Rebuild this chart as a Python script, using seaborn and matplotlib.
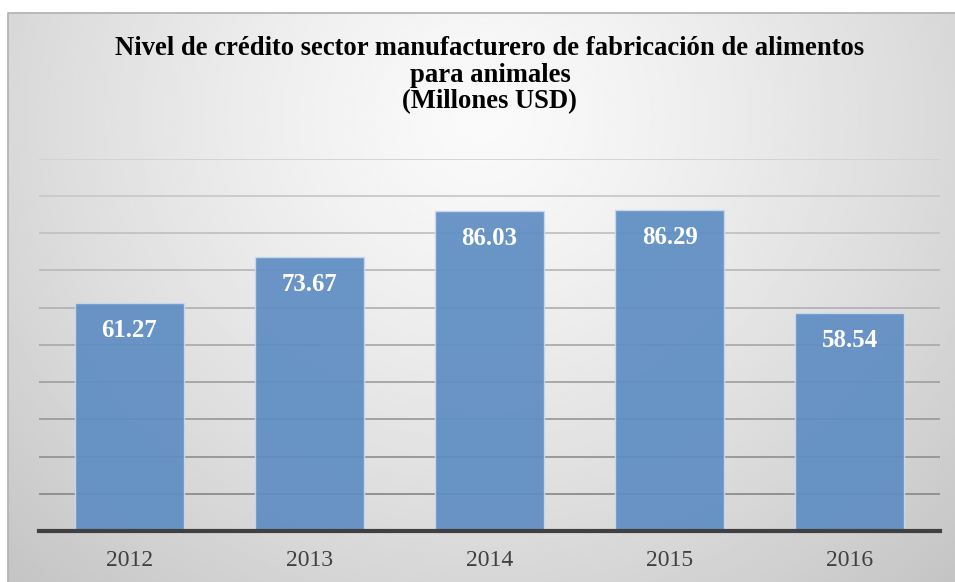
import numpy as np
import pandas as pd
import matplotlib
matplotlib.use("Agg")
import matplotlib.pyplot as plt
import seaborn as sns
from matplotlib.lines import Line2D

years = ["2012", "2013", "2014", "2015", "2016"]
credit = [61.27, 73.67, 86.03, 86.29, 58.54]
title_text = ("Nivel de crédito sector manufacturero de fabricación de alimentos\n"
              "para animales\n(Millones USD)")

sns.set_theme(style="white")
plt.rcParams["font.family"] = ["Liberation Serif", "DejaVu Serif"]

W, H = 955, 582
fig = plt.figure(figsize=(W / 100, H / 100), dpi=100)
fig.patch.set_facecolor("white")

# Chart area with a soft radial gray gradient
left_f, top_f = 8 / W, (H - 13) / H
bg = fig.add_axes([left_f, -0.01, 1.02 - left_f, top_f + 0.01], zorder=0)
gx, gy = np.meshgrid(np.linspace(0, 1, 400), np.linspace(0, 1, 300))
r = np.sqrt(((gx - 0.49) / 0.60) ** 2 + ((gy - 0.82) / 0.95) ** 2)
shade = 0.98 - 0.17 * np.clip(r, 0, 1.3) ** 1.3
bg.imshow(shade, cmap="gray", vmin=0, vmax=1, origin="lower",
          extent=[0, 1, 0, 1], aspect="auto", interpolation="bilinear")
bg.set_xlim(0, 1)
bg.set_ylim(0, 1)
bg.axis("off")
# thin border along the top and left edges of the chart area
fig.add_artist(Line2D([left_f, left_f, 1], [0, top_f, top_f],
                      transform=fig.transFigure, color="#b4b4b4",
                      linewidth=1.3, zorder=1))

ax = fig.add_axes([39 / W, 51 / H, (940 - 39) / W, (531 - 158.5) / H], zorder=2)
ax.patch.set_alpha(0)

df = pd.DataFrame({"year": years, "credit": credit})
sns.barplot(data=df, x="year", y="credit", ax=ax, color="#5f8ec3",
            saturation=1, width=0.605, edgecolor="#c9d9ee", linewidth=1.0,
            alpha=0.93, zorder=3)

ax.set_ylim(0, 100)
ax.set_xlim(-0.5, len(years) - 0.5)
ax.set_yticks(np.arange(10, 101, 10))
ax.set_yticklabels([])
ax.tick_params(axis="y", length=0)
ax.tick_params(axis="x", length=0, pad=14, labelsize=17, labelcolor="#404040")
ax.set_xlabel("")
ax.set_ylabel("")
ax.grid(axis="y", linewidth=1.3)
ax.set_axisbelow(True)
for val, gl in zip(ax.get_yticks(), ax.get_ygridlines()):
    t = (val - 10) / 90
    c = 0.55 + t * (0.82 - 0.55)
    gl.set_color((c, c, c))

for s in ["top", "right", "left"]:
    ax.spines[s].set_visible(False)
ax.spines["bottom"].set_color("#404040")
ax.spines["bottom"].set_linewidth(3)
ax.spines["bottom"].set_zorder(5)

for i, v in enumerate(credit):
    ax.annotate(f"{v:.2f}", xy=(i, v), xytext=(0, -20), textcoords="offset points",
                ha="center", va="center", color="white", fontsize=17.8,
                fontweight="bold", zorder=6)

fig.text(0.513, 1 - 36 / H, title_text, ha="center", va="top", fontsize=19.2,
         fontweight="bold", color="black", linespacing=1.08, zorder=3)

fig.savefig("out.png", dpi=100)
